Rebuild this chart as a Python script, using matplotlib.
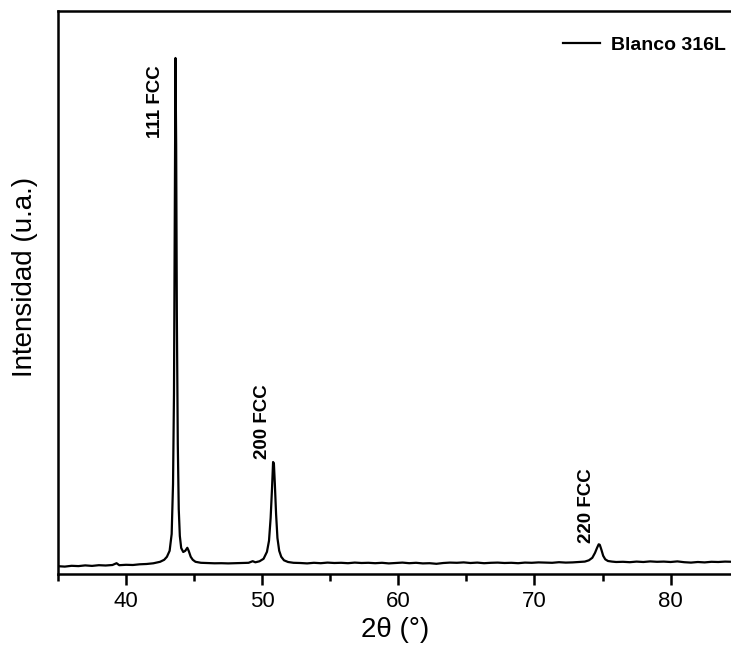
import matplotlib
matplotlib.use('Agg')
import matplotlib.pyplot as plt
from matplotlib.ticker import MultipleLocator

# ==============================================================================
# DATOS (leídos del difractograma)
# ==============================================================================
two_theta = [
    35.0, 35.5, 36.0, 36.5, 37.0, 37.5, 38.0, 38.5, 39.0, 39.3, 39.5, 40.0,
    40.5, 41.0, 41.5, 42.0, 42.5, 42.8, 43.0, 43.2, 43.35, 43.45, 43.52, 43.58,
    43.63, 43.68, 43.73, 43.8, 43.87, 43.95, 44.05, 44.2, 44.35, 44.5, 44.6,
    44.75, 44.9, 45.1, 45.5, 46.0, 46.5, 47.0, 47.5, 48.0, 48.5, 49.0, 49.3,
    49.5, 49.8, 50.1, 50.35, 50.5, 50.62, 50.72, 50.8, 50.86, 50.93, 51.02,
    51.12, 51.25, 51.4, 51.6, 51.9, 52.3, 52.8, 53.3, 53.8, 54.3, 54.8, 55.3,
    55.8, 56.3, 56.8, 57.3, 57.8, 58.3, 58.8, 59.3, 59.8, 60.3, 60.8, 61.3,
    61.8, 62.3, 62.8, 63.3, 63.8, 64.3, 64.8, 65.3, 65.8, 66.3, 66.8, 67.3,
    67.8, 68.3, 68.8, 69.3, 69.8, 70.3, 70.8, 71.3, 71.8, 72.3, 72.8, 73.3,
    73.7, 74.0, 74.25, 74.45, 74.6, 74.72, 74.8, 74.92, 75.05, 75.2, 75.4,
    75.7, 76.0, 76.5, 77.0, 77.5, 78.0, 78.5, 79.0, 79.5, 80.0, 80.5, 81.0,
    81.5, 82.0, 82.5, 83.0, 83.5, 84.0, 84.6,
]
intensidad = [
    78, 74, 82, 79, 86, 81, 88, 85, 90, 108, 88, 92,
    90, 97, 100, 107, 122, 142, 172, 232, 400, 900, 1800, 3600,
    5160, 4300, 2600, 1300, 650, 380, 260, 220, 232, 262, 232,
    172, 142, 122, 112, 110, 107, 108, 106, 108, 110, 112, 128,
    117, 127, 152, 222, 332, 560, 850, 1120, 1105, 900, 600,
    360, 232, 172, 137, 120, 112, 110, 106, 112, 108, 114, 110,
    112, 108, 114, 110, 112, 108, 112, 106, 110, 114, 108, 112,
    106, 108, 102, 110, 114, 112, 116, 110, 114, 108, 112, 114,
    110, 112, 108, 114, 112, 116, 114, 112, 118, 114, 116, 120,
    124, 137, 162, 212, 262, 297, 292, 242, 182, 147, 130,
    124, 120, 122, 118, 124, 120, 126, 122, 124, 120, 126, 118,
    114, 120, 116, 122, 120, 124, 122,
]

picos_label = ['111 FCC', '200 FCC', '220 FCC']
picos_x = [42.15, 50.0, 73.8]
picos_y = [5090, 1150, 310]
picos_va = ['top', 'bottom', 'bottom']

serie = 'Blanco 316L'

# ==============================================================================
# FIGURA
# ==============================================================================
narrow = ['Liberation Sans Narrow', 'Liberation Sans', 'DejaVu Sans']
arial = ['Liberation Sans', 'DejaVu Sans']

fig = plt.figure(figsize=(7.31, 6.62), dpi=100)
ax = fig.add_axes([58 / 731, 1 - 574 / 662, 1 - 58 / 731 + 0.003, (574 - 11) / 662])

ax.plot(two_theta, intensidad, color='black', lw=1.6, label=serie)

for lab, x, y, va in zip(picos_label, picos_x, picos_y, picos_va):
    ax.text(x, y, lab, rotation=90, ha='center', va=va, fontsize=13.5,
            fontweight='bold', family=arial)

ax.set_xlim(35, 84.6)
ax.set_ylim(0, 5630)
ax.xaxis.set_major_locator(MultipleLocator(10))
ax.xaxis.set_minor_locator(MultipleLocator(5))
ax.set_yticks([])
ax.tick_params(axis='x', which='major', direction='out', length=8, width=1.8,
               labelsize=16, pad=4)
ax.tick_params(axis='x', which='minor', direction='out', length=5, width=1.8)
for lbl in ax.get_xticklabels():
    lbl.set_family(narrow)
for s in ax.spines.values():
    s.set_linewidth(1.8)

ax.set_xlabel('2θ (°)', fontsize=20, family=narrow, labelpad=4)
ax.set_ylabel('Intensidad (u.a.)', fontsize=20, family=arial)
ax.yaxis.set_label_coords(-0.03, 0.5275)

leg = ax.legend(loc='center right', bbox_to_anchor=(1.0, (574 - 45) / 563),
                frameon=False, handlelength=1.9, handletextpad=0.55,
                borderaxespad=0.0,
                prop={'family': arial, 'weight': 'bold', 'size': 14})

plt.savefig('out.png', dpi=100)
